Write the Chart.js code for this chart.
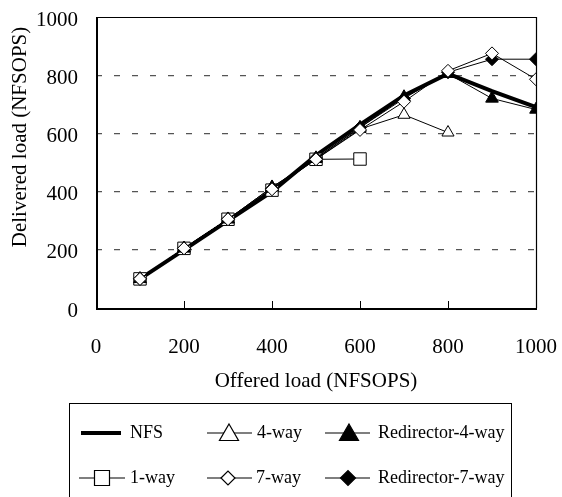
<!DOCTYPE html>
<html>
<head>
<meta charset="utf-8">
<script src="https://cdn.jsdelivr.net/npm/chart.js@4/dist/chart.umd.min.js"></script>
<style>
  html, body { margin: 0; padding: 0; background: #fff; }
  canvas { display: block; }
</style>
</head>
<body>
<canvas id="c" width="562" height="497"></canvas>
<script>
const offered = [100, 200, 300, 400, 500, 600, 700, 800, 900, 1000];
const nfs = [100, 200, 300, 400, 525, 630, 730, 805, 745, 690];
const oneWay = [100, 205, 305, 405, 511, 512];
const fourWay = [100, 205, 305, 415, 512, 615, 664, 603];
const sevenWay = [100, 205, 305, 408, 511, 612, 709, 815, 875, 786];
const redir4 = [100, 205, 305, 415, 515, 620, 725, 805, 720, 682];
const redir7 = [100, 205, 305, 410, 515, 620, 720, 810, 855, 855];
const xTicks = [0, 200, 400, 600, 800, 1000];
const yTicks = [0, 200, 400, 600, 800, 1000];
const xTitle = 'Offered load (NFSOPS)';
const yTitle = 'Delivered load (NFSOPS)';
const legendLabels = ['NFS', '1-way', '4-way', '7-way', 'Redirector-4-way', 'Redirector-7-way'];

const FONT = 'Liberation Serif, Times New Roman, serif';

function pts(vals) { return vals.map((v, i) => ({ x: offered[i], y: v })); }

function ds(label, vals, o) {
  return Object.assign({
    label, data: pts(vals), borderColor: '#000', backgroundColor: '#fff',
    borderWidth: 1, pointBorderWidth: 1, pointBorderColor: '#000',
    tension: 0, fill: false
  }, o);
}

const datasets = [
  ds(legendLabels[0], nfs, { borderWidth: 4, pointRadius: 0, order: 6 }),
  ds(legendLabels[1], oneWay, { pointStyle: 'rect', pointRadius: 8.8, pointBackgroundColor: '#fff', order: 5 }),
  ds(legendLabels[2], fourWay, { pointStyle: 'triangle', pointRadius: 7, pointBackgroundColor: '#fff', order: 4 }),
  ds(legendLabels[4], redir4, { pointStyle: 'triangle', pointRadius: 7.3, pointBackgroundColor: '#000', order: 3 }),
  ds(legendLabels[5], redir7, { pointStyle: 'rectRot', pointRadius: 6.5, pointBackgroundColor: '#000', order: 2 }),
  ds(legendLabels[3], sevenWay, { pointStyle: 'rectRot', pointRadius: 6.5, pointBackgroundColor: '#fff', order: 1 })
];

function marker(ctx, style, r, x, y) {
  ctx.beginPath();
  if (style === 'rect') {
    const s = Math.SQRT1_2 * r;
    ctx.rect(x - s, y - s, 2 * s, 2 * s);
  } else if (style === 'triangle') {
    for (let k = 0; k < 3; k++) {
      const a = k * 2 * Math.PI / 3;
      const px = x + Math.sin(a) * r, py = y - Math.cos(a) * r;
      if (k === 0) ctx.moveTo(px, py); else ctx.lineTo(px, py);
    }
    ctx.closePath();
  } else if (style === 'rectRot') {
    ctx.moveTo(x - r, y); ctx.lineTo(x, y - r); ctx.lineTo(x + r, y); ctx.lineTo(x, y + r);
    ctx.closePath();
  }
  ctx.fill();
  ctx.stroke();
}

const framePlugin = {
  id: 'frame',
  afterDraw(chart) {
    const ctx = chart.ctx;
    const a = chart.chartArea;
    const xs = chart.scales.x;
    ctx.save();
    ctx.strokeStyle = '#000';
    ctx.lineWidth = 1.2;
    ctx.beginPath();
    ctx.moveTo(a.left, a.top + 0.5);
    ctx.lineTo(a.right + 0.5, a.top + 0.5);
    ctx.lineTo(a.right + 0.5, a.bottom);
    ctx.stroke();
    ctx.lineWidth = 2;
    ctx.beginPath();
    ctx.moveTo(a.left + 1, a.top);
    ctx.lineTo(a.left + 1, a.bottom + 1);
    ctx.lineTo(a.right + 1, a.bottom + 1);
    ctx.stroke();
    ctx.lineWidth = 1;
    xTicks.forEach(v => {
      const px = Math.round(xs.getPixelForValue(v)) + 0.5;
      ctx.beginPath();
      ctx.moveTo(px, a.bottom);
      ctx.lineTo(px, a.bottom - 7);
      ctx.stroke();
    });
    ctx.fillStyle = '#000';
    ctx.font = '21px ' + FONT;
    ctx.textAlign = 'center';
    ctx.textBaseline = 'middle';
    ctx.translate(20, 137);
    ctx.rotate(-Math.PI / 2);
    ctx.fillText(yTitle, 0, 0);
    ctx.restore();

    ctx.save();
    ctx.strokeStyle = '#000';
    ctx.lineWidth = 1;
    ctx.strokeRect(69.5, 403.5, 442, 110);
    const items = [
      { i: 0, row: 0, x1: 81, x2: 121, mx: 101, tx: 130, lw: 4, style: false },
      { i: 1, row: 1, x1: 79, x2: 125, mx: 102, tx: 130, lw: 1.2, style: 'rect', r: 10.6, fill: '#fff' },
      { i: 2, row: 0, x1: 207, x2: 252, mx: 229, tx: 257, lw: 1.2, style: 'triangle', r: 11, fill: '#fff' },
      { i: 3, row: 1, x1: 207, x2: 252, mx: 228, tx: 256, lw: 1.2, style: 'rectRot', r: 7, fill: '#fff' },
      { i: 4, row: 0, x1: 325, x2: 370, mx: 349, tx: 378, lw: 1.2, style: 'triangle', r: 11, fill: '#000' },
      { i: 5, row: 1, x1: 325, x2: 370, mx: 348, tx: 378, lw: 1.2, style: 'rectRot', r: 7.5, fill: '#000' }
    ];
    const rowY = [433, 478];
    ctx.font = '18px ' + FONT;
    ctx.textAlign = 'left';
    ctx.textBaseline = 'middle';
    items.forEach(it => {
      const y = rowY[it.row];
      ctx.lineWidth = it.lw;
      ctx.strokeStyle = '#000';
      ctx.beginPath();
      ctx.moveTo(it.x1, y);
      ctx.lineTo(it.x2, y);
      ctx.stroke();
      if (it.style) {
        ctx.fillStyle = it.fill;
        ctx.lineWidth = 1.2;
        const yy = it.style === 'triangle' ? y + 2 : y;
        marker(ctx, it.style, it.r, it.mx, yy);
      }
      ctx.fillStyle = '#000';
      ctx.fillText(legendLabels[it.i], it.tx, y);
    });
    ctx.restore();
  }
};

function noPad(s) { s.paddingLeft = 0; s.paddingRight = 0; s.paddingTop = 0; s.paddingBottom = 0; }

new Chart(document.getElementById('c'), {
  type: 'line',
  data: { datasets },
  plugins: [framePlugin],
  options: {
    responsive: false,
    animation: false,
    events: [],
    layout: { padding: { left: 0, top: 17, right: 26, bottom: 99 } },
    plugins: { legend: { display: false }, tooltip: { enabled: false }, title: { display: false } },
    scales: {
      x: {
        type: 'linear', min: 0, max: 1000,
        afterBuildTicks: s => { s.ticks = xTicks.map(v => ({ value: v })); },
        afterFit: s => { s.height = 90; noPad(s); },
        grid: { display: false, drawTicks: false },
        border: { display: false },
        ticks: { color: '#000', font: { family: FONT, size: 21 }, padding: 27, maxRotation: 0, autoSkip: false, callback: v => String(v) },
        title: { display: true, text: xTitle, color: '#000', font: { family: FONT, size: 21 }, padding: { top: 0, bottom: 4 } }
      },
      y: {
        min: 0, max: 1000,
        afterBuildTicks: s => { s.ticks = yTicks.map(v => ({ value: v })); },
        afterFit: s => { s.width = 96; noPad(s); },
        grid: {
          drawTicks: false,
          color: c => (c.tick && (c.tick.value === 0 || c.tick.value === 1000)) ? 'rgba(0,0,0,0)' : '#555',
          lineWidth: 1.2
        },
        border: { display: false, dash: [6, 12] },
        ticks: { color: '#000', font: { family: FONT, size: 21 }, padding: 18, labelOffset: 3, callback: v => String(v) }
      }
    }
  }
});
</script>
</body>
</html>
